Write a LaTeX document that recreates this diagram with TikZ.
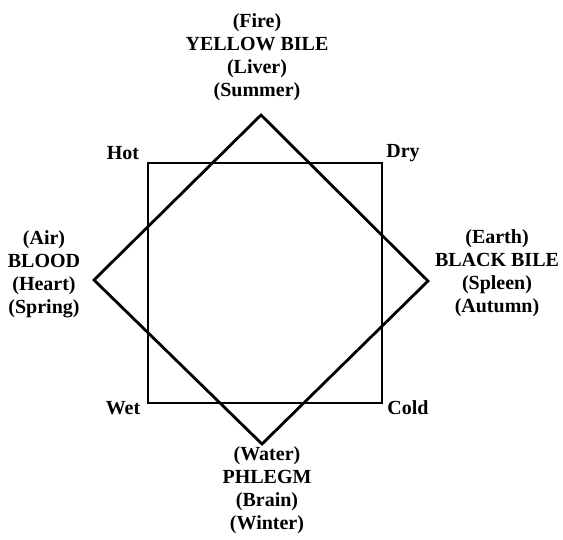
\documentclass[tikz,border=0pt]{standalone}
\usepackage{fontspec}
\setmainfont{Liberation Serif}
\begin{document}
\begin{tikzpicture}[x=1pt,y=-1pt,
  lbl/.style={font=\fontsize{20}{23}\selectfont\bfseries, inner sep=0pt, align=center},
  frame/.style={line width=2.8pt, line join=miter}]
\useasboundingbox (0,0) rectangle (563,539);
% square corners
\coordinate (hot) at (148,163);
\coordinate (dry) at (382,163);
\coordinate (cold) at (382,403);
\coordinate (wet) at (148,403);
% diamond corners
\coordinate (top) at (261,115);
\coordinate (right) at (428,281);
\coordinate (bottom) at (262,444);
\coordinate (left) at (94,280);
\draw[frame] (hot) -- (dry) -- (cold) -- (wet) -- cycle;
\draw[frame] (top) -- (right) -- (bottom) -- (left) -- cycle;
% corner labels
\node[lbl] (hotl) at (123,153) {Hot};
\node[lbl] (dryl) at (403,153) {Dry};
\node[lbl] (wetl) at (123,408) {Wet};
\node[lbl] (coldl) at (408,408) {Cold};
% humour labels
\node[lbl] (fire) at (257,57) {(Fire)\\YELLOW BILE\\(Liver)\\(Summer)};
\node[lbl] (air) at (44,274) {(Air)\\BLOOD\\(Heart)\\(Spring)};
\node[lbl] (earth) at (497,273) {(Earth)\\BLACK BILE\\(Spleen)\\(Autumn)};
\node[lbl] (water) at (267,490) {(Water)\\PHLEGM\\(Brain)\\(Winter)};
\end{tikzpicture}
\end{document}
